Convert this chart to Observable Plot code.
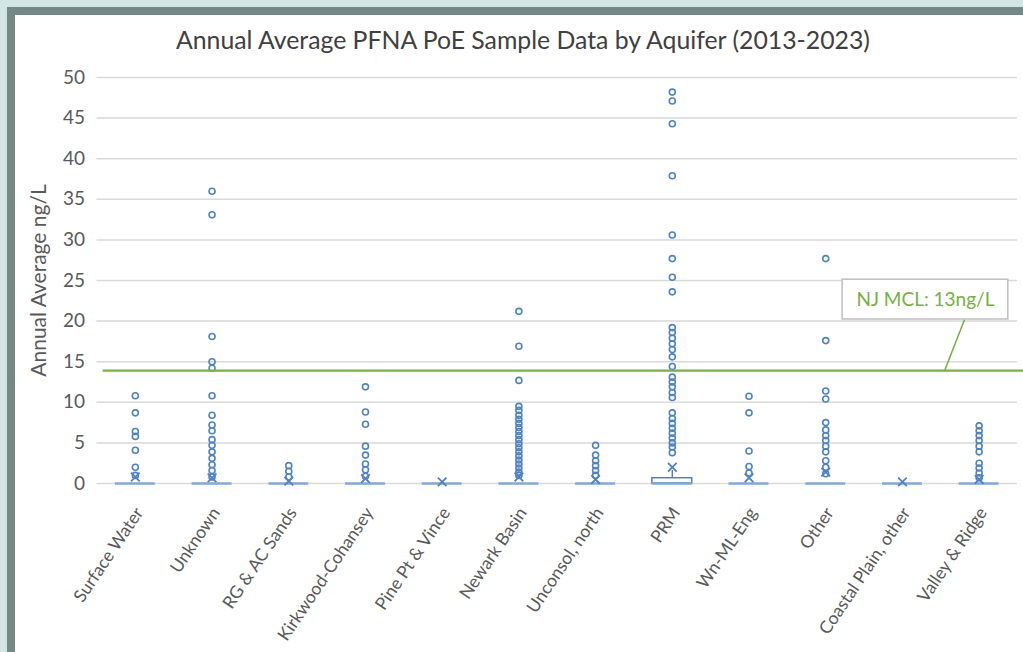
<!DOCTYPE html>
<html><head><meta charset="utf-8">
<script src="https://cdn.jsdelivr.net/npm/d3@7"></script>
<script src="https://cdn.jsdelivr.net/npm/@observablehq/plot@0.6"></script>
<style>
html,body{margin:0;padding:0;background:#d3e5e4;width:1023px;height:652px;overflow:hidden;}
#frame{position:absolute;left:7px;top:7px;width:1016px;height:645px;background:#748985;}
#panel{position:absolute;left:15px;top:15px;width:1008px;height:637px;background:#fff;overflow:hidden;}
#title{position:absolute;left:4px;top:10px;width:1008px;text-align:center;font-family:Lato,sans-serif;font-size:24.8px;line-height:30px;color:#404040;}
#chart{position:absolute;left:0;top:45px;}
</style></head><body>
<div id="frame"></div>
<div id="panel"><div id="title">Annual Average PFNA PoE Sample Data by Aquifer (2013-2023)</div><div id="chart"></div></div>
<script>
const aquifers = ["Surface Water","Unknown","RG & AC Sands","Kirkwood-Cohansey","Pine Pt & Vince","Newark Basin","Unconsol, north","PRM","Wn-ML-Eng","Other","Coastal Plain, other","Valley & Ridge"];
const yTicks = [0,5,10,15,20,25,30,35,40,45,50];

// outlier values per aquifer (ng/L)
const surfaceWater = [10.8, 8.7, 6.4, 5.8, 4.1, 2.0, 1.0];
const unknown = [36.0, 33.1, 18.1, 15.0, 14.2, 10.8, 8.4, 7.2, 6.5, 5.4, 4.7, 3.9, 3.1, 2.3, 1.6, 0.8];
const rgAcSands = [2.2, 1.5, 0.8];
const kirkwoodCohansey = [11.9, 8.8, 7.3, 4.6, 3.5, 2.4, 1.7, 0.9];
const pinePtVince = [];
const newarkBasin = [21.2, 16.9, 12.7, 9.5, 9.0, 8.4, 7.9, 7.4, 6.9, 6.4, 5.9, 5.4, 4.9, 4.4, 3.9, 3.4, 2.9, 2.4, 1.9, 1.4, 1.0];
const unconsolNorth = [4.7, 3.5, 2.8, 2.2, 1.6, 1.0];
const prm = [48.2, 47.1, 44.3, 37.9, 30.6, 27.7, 25.4, 23.6, 19.2, 18.6, 17.9, 17.2, 16.5, 15.6, 14.4, 13.1, 12.5, 11.9, 11.2, 10.6, 8.7, 8.0, 7.4, 6.8, 6.2, 5.6, 5.0, 4.5, 3.8];
const wnMlEng = [10.75, 8.7, 4.0, 2.1, 1.3];
const other = [27.7, 17.6, 11.4, 10.4, 7.5, 6.6, 5.9, 5.3, 4.6, 3.9, 2.8, 2.0, 1.2];
const coastalPlainOther = [];
const valleyRidge = [7.1, 6.5, 5.9, 5.3, 4.6, 3.9, 2.5, 1.9, 1.3, 0.7];

const means = [0.8, 0.7, 0.3, 0.6, 0.2, 0.8, 0.5, 2.0, 0.7, 1.4, 0.2, 0.5];
const q1 = [0,0,0,0,0,0,0,0,0,0,0,0];
const medians = [0,0,0,0,0,0,0,0,0,0,0,0];
const q3 = [0,0,0,0,0,0,0,0.65,0,0,0,0];
const whiskerHigh = [0,0,0,0,0,0,0,1.6,0,0,0,0];

const mclValue = 13.9;
const mclLabel = "NJ MCL: 13ng/L";

const outlierLists = [surfaceWater, unknown, rgAcSands, kirkwoodCohansey, pinePtVince, newarkBasin, unconsolNorth, prm, wnMlEng, other, coastalPlainOther, valleyRidge];
const points = outlierLists.flatMap((arr, i) => arr.map(v => ({i, v})));
const stats = aquifers.map((a, i) => ({i, mean: means[i], q1: q1[i], med: medians[i], q3: q3[i], hi: whiskerHigh[i]}));
const boxes = stats.filter(d => d.q3 > d.q1);
const whiskers = stats.filter(d => d.hi > d.q3);

const blue = "#4d83c4";
const boxBlue = "#82a8db";
const green = "#77b043";
const hw = 0.26;

const chart = Plot.plot({
  width: 1008, height: 592,
  marginTop: 17, marginBottom: 169, marginLeft: 81.5, marginRight: 6,
  x: {type: "linear", domain: [-0.5, 11.5]},
  y: {domain: [0, 50]},
  style: {fontFamily: "Lato, sans-serif", color: "#595959", background: "transparent", overflow: "visible"},
  marks: [
    Plot.gridY(yTicks, {stroke: "#d9d9d9", strokeOpacity: 1, strokeWidth: 1.5}),
    Plot.axisY(yTicks, {tickSize: 0, tickPadding: 12, fontSize: 19, label: null}),
    Plot.axisY({label: "Annual Average ng/L", labelAnchor: "center", labelArrow: "none", labelOffset: 66, fontSize: 21, ticks: [], tickSize: 0}),
    Plot.axisX(aquifers.map((a, i) => i), {tickFormat: i => aquifers[i], tickRotate: -56, tickSize: 0, tickPadding: 26, dx: 4, fontSize: 17.5, label: null}),
    Plot.ruleX(whiskers, {x: "i", y1: "q3", y2: "hi", stroke: blue, strokeWidth: 1.5}),
    Plot.rect(boxes, {x1: d => d.i - hw, x2: d => d.i + hw, y1: "q1", y2: "q3", fill: "white", stroke: blue, strokeWidth: 1.5}),
    Plot.ruleY(stats, {y: "med", x1: d => d.i - hw, x2: d => d.i + hw, stroke: boxBlue, strokeWidth: 2.5}),
    Plot.dot(points, {x: "i", y: "v", r: 3, stroke: blue, strokeWidth: 1.6, fill: "none"}),
    Plot.dot(stats, {x: "i", y: "mean", symbol: "times", r: 4, stroke: blue, strokeWidth: 1.8}),
    Plot.ruleY([mclValue], {x1: -0.42, x2: 11.6, stroke: green, strokeWidth: 2.2}),
    Plot.link([{x1: 10.81, y1: 20.2, x2: 10.55, y2: mclValue}], {x1: "x1", y1: "y1", x2: "x2", y2: "y2", stroke: green, strokeWidth: 1.5}),
    Plot.rect([{x1: 9.22, x2: 11.38, y1: 20.2, y2: 25.1}], {x1: "x1", x2: "x2", y1: "y1", y2: "y2", fill: "white", stroke: "#bfbfbf", strokeWidth: 1.5}),
    Plot.text([mclLabel], {x: 10.3, y: 22.65, text: d => d, fill: green, fontSize: 19})
  ]
});
document.getElementById("chart").appendChild(chart);
</script>
</body></html>
